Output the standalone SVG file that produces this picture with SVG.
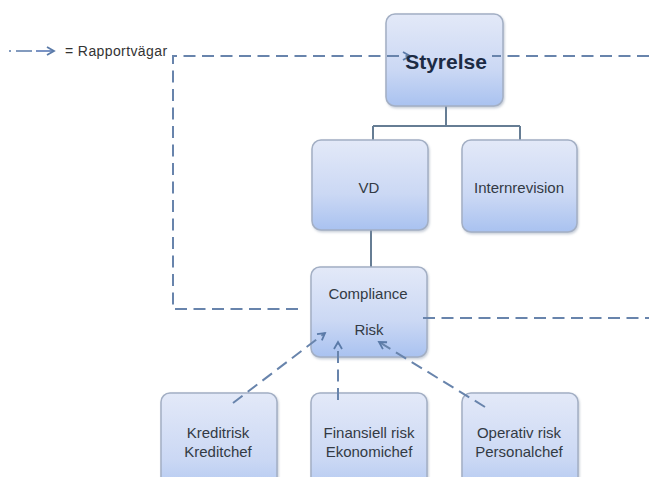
<svg xmlns="http://www.w3.org/2000/svg" width="649" height="477" viewBox="0 0 649 477">
<style>
.box{fill:url(#g);stroke:#a3afc4;stroke-width:1.5;filter:url(#sh)}
.t{font-family:"Liberation Sans",Arial,sans-serif;font-size:15px;fill:#333a44;text-anchor:middle}
.tb{font-family:"Liberation Sans",Arial,sans-serif;font-size:21px;font-weight:bold;fill:#1c2b44;text-anchor:middle}
.solid{stroke:#667d94;stroke-width:2;fill:none}
.dash{stroke:#6884ac;stroke-width:2;fill:none;stroke-dasharray:12 6.5}
</style>
<defs>
<linearGradient id="g" x1="0" y1="0" x2="0" y2="1">
<stop offset="0" stop-color="#e3e9f8"/>
<stop offset="0.6" stop-color="#cbd8f4"/>
<stop offset="1" stop-color="#a9c2f0"/>
</linearGradient>
<filter id="sh" x="-10%" y="-10%" width="130%" height="130%">
<feDropShadow dx="1" dy="1.5" stdDeviation="1.2" flood-color="#8090a8" flood-opacity="0.45"/>
</filter>
<marker id="ah" markerWidth="10" markerHeight="10" refX="8" refY="5" orient="auto" markerUnits="userSpaceOnUse">
<polyline points="1,1 8,5 1,9" fill="none" stroke="#5a7aa8" stroke-width="1.8"/>
</marker>
</defs>
<rect width="649" height="477" fill="#ffffff"/>

<g id="legend">
<circle cx="10" cy="51" r="1" fill="#5a7aa8"/>
<line x1="16" y1="51" x2="32" y2="51" stroke="#5a7aa8" stroke-width="1.5"/>
<line x1="36" y1="51" x2="54" y2="51" stroke="#4e6fb0" stroke-width="1.5" marker-end="url(#ah)"/>
<text x="65" y="56" font-family="'Liberation Sans',Arial,sans-serif" font-size="14" fill="#333" letter-spacing="0.4">= Rapportvägar</text>
</g>

<g id="connectors">
<path class="solid" d="M446,106 V126 M373,126 H520 M373,126 V140 M520,126 V140 M371,230 V267"/>
</g>

<g id="styrelse"><rect class="box" x="386" y="14" width="117" height="92" rx="9"/></g>
<g id="vd"><rect class="box" x="312" y="140" width="116" height="90" rx="9"/><text class="t" x="369" y="193">VD</text></g>
<g id="internrevision"><rect class="box" x="462" y="140" width="115" height="92" rx="9"/><text class="t" x="519" y="193">Internrevision</text></g>
<g id="compliance"><rect class="box" x="311" y="267" width="116" height="90" rx="9"/><text class="t" x="368" y="299">Compliance</text><text class="t" x="369" y="335">Risk</text></g>
<g id="kreditrisk"><rect class="box" x="161" y="393" width="116" height="110" rx="9"/><text class="t" x="218" y="438">Kreditrisk</text><text class="t" x="218" y="457">Kreditchef</text></g>
<g id="finansiell"><rect class="box" x="311" y="393" width="116" height="110" rx="9"/><text class="t" x="369" y="438">Finansiell risk</text><text class="t" x="369" y="457">Ekonomichef</text></g>
<g id="operativ"><rect class="box" x="462" y="393" width="116" height="110" rx="9"/><text class="t" x="519" y="438">Operativ risk</text><text class="t" x="519" y="457">Personalchef</text></g>

<g id="report-paths">
<path class="dash" d="M298,309 H173 V56 H410" marker-end="url(#ah)"/>
<path class="dash" d="M649,56 H492"/>
<path class="dash" d="M423,318 H649"/>
<path class="dash" d="M233,403 L325,333" marker-end="url(#ah)"/>
<path class="dash" d="M338,400 V342" marker-end="url(#ah)"/>
<path class="dash" d="M485,407 L379,342" marker-end="url(#ah)"/>
</g>
<text class="tb" x="446" y="69">Styrelse</text>
</svg>
